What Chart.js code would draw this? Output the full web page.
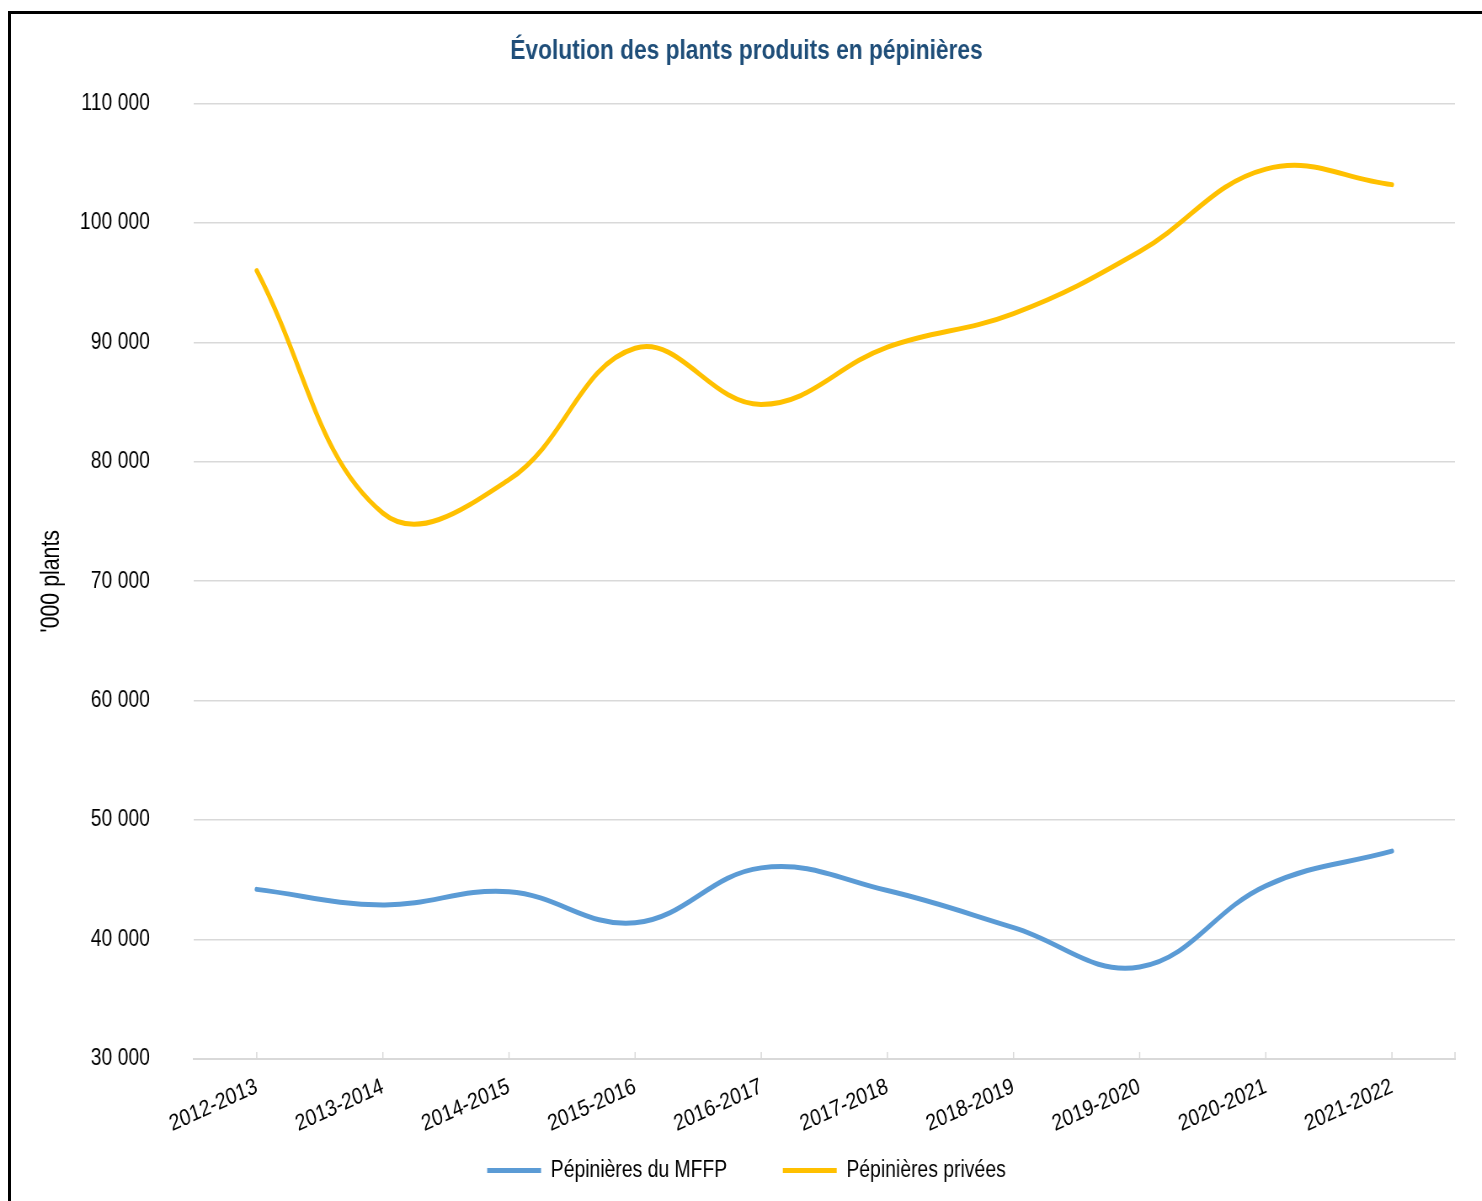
<!DOCTYPE html>
<html lang="fr">
<head>
<meta charset="utf-8">
<title>Évolution des plants produits en pépinières</title>
<script src="https://cdn.jsdelivr.net/npm/chart.js@4.4.1/dist/chart.umd.min.js"></script>
<style>
    html, body {
        margin: 0;
        padding: 0;
        background: #fff;
    }
    #wrap {
        position: relative;
        width: 1482px;
        height: 1201px;
        overflow: hidden;
    }
    #frame {
        position: absolute;
        left: 8px;
        top: 11px;
        width: 1600px;
        height: 1400px;
        border-left: 3px solid #000;
        border-top: 3px solid #000;
        pointer-events: none;
    }
    /* Arial Narrow look: the canvas is drawn wider and squeezed horizontally */
    canvas {
        position: absolute;
        left: 0;
        top: 0;
        transform: scaleX(0.842);
        transform-origin: 0 0;
    }
</style>
</head>
<body>
<div id="wrap">
    <canvas id="plantsChart" width="1760" height="1201"></canvas>
    <div id="frame"></div>
</div>
<script>
const seasons = ['2012-2013', '2013-2014', '2014-2015', '2015-2016', '2016-2017',
    '2017-2018', '2018-2019', '2019-2020', '2020-2021', '2021-2022'];

// milliers de plants
const mffpValues = [44200, 42900, 44000, 41400, 46000, 44100, 41000, 37700, 44500, 47400];
const priveesValues = [96000, 75700, 78500, 89500, 84800, 89600, 92400, 97600, 104500, 103200];

const yTicks = [30000, 40000, 50000, 60000, 70000, 80000, 90000, 100000, 110000];

const squeeze = 0.842;
const font = "'Liberation Sans', Arial, sans-serif";
const gridColor = '#d9d9d9';

function formatThousands(value) {
    return String(value).replace(/\B(?=(\d{3})+(?!\d))/g, ' ');
}

// Excel-style tick marks pointing into the plot area
const innerTicks = {
    id: 'innerTicks',
    beforeDatasetsDraw(chart) {
        const xScale = chart.scales.x;
        const ctx = chart.ctx;
        const y0 = xScale.top;
        const positions = xScale.ticks.map(function (t, i) {
            return xScale.getPixelForTick(i);
        });
        positions.push(xScale.right);

        ctx.save();
        ctx.strokeStyle = gridColor;
        ctx.lineWidth = 1.5;
        positions.forEach(function (px) {
            ctx.beginPath();
            ctx.moveTo(px, y0);
            ctx.lineTo(px, y0 - 7);
            ctx.stroke();
        });
        ctx.restore();
    }
};

// vertical axis title, narrow along its length like the other texts
const yAxisTitle = {
    id: 'yAxisTitle',
    afterDraw(chart) {
        const area = chart.chartArea;
        const ctx = chart.ctx;
        ctx.save();
        ctx.translate(52 / squeeze, (area.top + area.bottom) / 2);
        ctx.rotate(-Math.PI / 2);
        ctx.scale(0.82, 1 / squeeze);
        ctx.font = '26px ' + font;
        ctx.fillStyle = '#000';
        ctx.textAlign = 'center';
        ctx.textBaseline = 'middle';
        ctx.fillText("'000 plants", 0, 0);
        ctx.restore();
    }
};

new Chart(document.getElementById('plantsChart'), {
    type: 'line',
    data: {
        labels: seasons,
        datasets: [{
            label: 'Pépinières du MFFP',
            data: mffpValues,
            borderColor: '#5b9bd5',
            backgroundColor: '#5b9bd5',
            borderWidth: 5,
            borderCapStyle: 'round',
            pointRadius: 0,
            tension: 0.4
        }, {
            label: 'Pépinières privées',
            data: priveesValues,
            borderColor: '#ffc000',
            backgroundColor: '#ffc000',
            borderWidth: 5,
            borderCapStyle: 'round',
            pointRadius: 0,
            tension: 0.4
        }]
    },
    options: {
        responsive: false,
        animation: false,
        layout: {
            padding: {
                left: 45,
                right: 32,
                top: 0,
                bottom: 9
            }
        },
        plugins: {
            title: {
                display: true,
                text: 'Évolution des plants produits en pépinières',
                color: '#1f4e79',
                font: {
                    family: font,
                    size: 27,
                    weight: 'bold'
                },
                padding: {
                    top: 35,
                    bottom: 36
                }
            },
            legend: {
                position: 'bottom',
                labels: {
                    color: '#000',
                    boxWidth: 64,
                    boxHeight: 5,
                    padding: 20,
                    font: {
                        family: font,
                        size: 23
                    },
                    generateLabels: function (chart) {
                        const last = chart.data.datasets.length - 1;
                        return chart.data.datasets.map(function (ds, i) {
                            return {
                                text: i < last ? ds.label + '\u2003\u2003' : ds.label,
                                fillStyle: ds.borderColor,
                                strokeStyle: ds.borderColor,
                                lineWidth: 0,
                                fontColor: '#000',
                                hidden: false,
                                datasetIndex: i
                            };
                        });
                    }
                }
            },
            tooltip: {
                enabled: false
            }
        },
        scales: {
            x: {
                offset: true,
                afterFit: function (scale) {
                    scale.height = 80;
                },
                grid: {
                    display: true,
                    drawOnChartArea: false,
                    drawTicks: false
                },
                border: {
                    display: true,
                    color: gridColor,
                    width: 2
                },
                ticks: {
                    color: '#000',
                    maxRotation: 21,
                    minRotation: 21,
                    padding: 14,
                    font: {
                        family: font,
                        size: 23
                    }
                }
            },
            y: {
                min: yTicks[0],
                max: yTicks[yTicks.length - 1],
                afterFit: function (scale) {
                    scale.width = 230 - 45;
                },
                afterBuildTicks: function (scale) {
                    scale.ticks = yTicks.map(function (v) {
                        return { value: v };
                    });
                },
                grid: {
                    color: gridColor,
                    lineWidth: 1.5,
                    drawTicks: false
                },
                border: {
                    display: false
                },
                ticks: {
                    color: '#000',
                    padding: 52,
                    font: {
                        family: font,
                        size: 23
                    },
                    callback: function (value) {
                        return formatThousands(value);
                    }
                }
            }
        }
    },
    plugins: [innerTicks, yAxisTitle]
});
</script>
</body>
</html>
